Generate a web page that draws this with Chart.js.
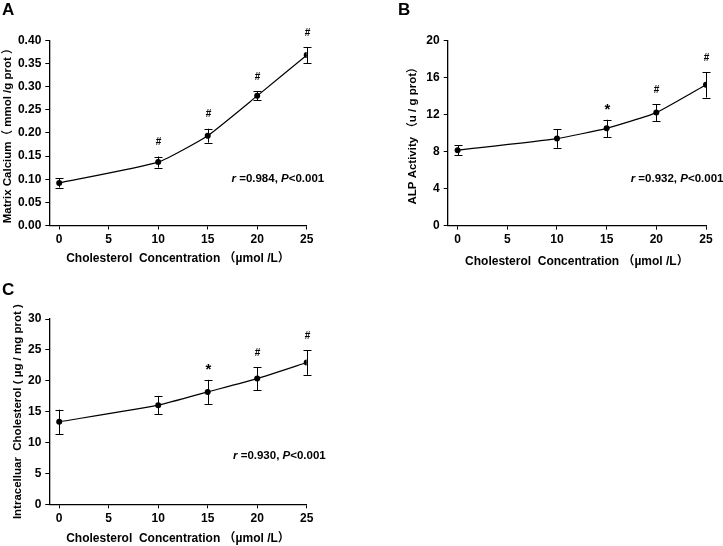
<!DOCTYPE html>
<html>
<head>
<meta charset="utf-8">
<script src="https://cdn.jsdelivr.net/npm/chart.js@4/dist/chart.umd.min.js"></script>
<style>
  html, body { margin: 0; padding: 0; background: #fff; }
  #wrap { position: relative; width: 723px; height: 546px; overflow: hidden; background: #fff; }
  canvas { position: absolute; }
  .lbl { position: absolute; font: bold 17px "Liberation Sans", Arial, sans-serif; color: #000; line-height: 1; }
</style>
</head>
<body>
<div id="wrap">
  <canvas id="cA" width="360" height="270" style="left:0;top:0;width:360px;height:270px"></canvas>
  <canvas id="cB" width="363" height="270" style="left:360px;top:0;width:363px;height:270px"></canvas>
  <canvas id="cC" width="360" height="276" style="left:0;top:270px;width:360px;height:276px"></canvas>
  <div class="lbl" style="left:2px;top:1px">A</div>
  <div class="lbl" style="left:398px;top:1px">B</div>
  <div class="lbl" style="left:2px;top:281px">C</div>
</div>
<script>
// ---- data ----
const concentrations = [0, 10, 15, 20, 25];
const xTickValues = [0, 5, 10, 15, 20, 25];

const calciumMean = [0.092, 0.137, 0.194, 0.280, 0.368];
const calciumErr  = [0.010, 0.012, 0.015, 0.010, 0.017];
const calciumMarks = ['', '#', '#', '#', '#'];
const calciumStat = ['0.984', '<0.001'];

const alpMean = [8.15, 9.40, 10.50, 12.20, 15.20];
const alpErr  = [0.55, 1.00, 0.93, 0.90, 1.38];
const alpMarks = ['', '', '*', '#', '#'];
const alpStat = ['0.932', '<0.001'];

const cholMean = [13.35, 16.05, 18.20, 20.35, 22.95];
const cholErr  = [1.98, 1.50, 1.95, 1.85, 2.00];
const cholMarks = ['', '', '*', '#', '#'];
const cholStat = ['0.930', '<0.001'];

const FONT = '"Liberation Sans", Arial, "Noto Sans CJK SC", sans-serif';

const errorBarPlugin = {
  id: 'errbars',
  afterDatasetsDraw(chart) {
    const o = chart.options.plugins.errbars;
    const ctx = chart.ctx;
    const ys = chart.scales.y;
    const meta = chart.getDatasetMeta(0);
    ctx.save();
    ctx.strokeStyle = '#000';
    ctx.lineWidth = 1;
    meta.data.forEach((pt, i) => {
      const m = o.mean[i], e = o.err[i];
      const x = Math.round(pt.x) + 0.5;
      const yt = ys.getPixelForValue(m + e);
      const yb = ys.getPixelForValue(m - e);
      ctx.beginPath();
      ctx.moveTo(x, yt); ctx.lineTo(x, yb);
      ctx.moveTo(x - 4, Math.round(yt) + 0.5); ctx.lineTo(x + 4, Math.round(yt) + 0.5);
      ctx.moveTo(x - 4, Math.round(yb) + 0.5); ctx.lineTo(x + 4, Math.round(yb) + 0.5);
      ctx.stroke();
      const mk = o.marks[i];
      if (mk) {
        ctx.fillStyle = '#000';
        ctx.textAlign = 'center';
        ctx.textBaseline = 'middle';
        if (mk === '*') {
          ctx.font = 'bold 15px ' + FONT;
          ctx.fillText(mk, x, yt - 10);
        } else {
          ctx.font = 'bold 10px ' + FONT;
          ctx.fillText(mk, x, yt - 14);
        }
      }
    });
    // statistics text
    const s = o.stat;
    let tx = o.statX;
    const ty = o.statY;
    const parts = [
      ['italic bold 11.5px ' + FONT, 'r'],
      ['bold 11.5px ' + FONT, ' =' + s[0] + ', '],
      ['italic bold 11.5px ' + FONT, 'P'],
      ['bold 11.5px ' + FONT, s[1]]
    ];
    ctx.textAlign = 'left';
    ctx.textBaseline = 'middle';
    ctx.fillStyle = '#000';
    parts.forEach(([f, t]) => {
      ctx.font = f;
      ctx.fillText(t, tx, ty);
      tx += ctx.measureText(t).width;
    });
    ctx.restore();
  }
};

function makePanel(id, cfg) {
  const canvas = document.getElementById(id);
  const W = canvas.width, H = canvas.height;
  const padLeft = cfg.titleCX - 6.6;
  new Chart(canvas, {
    type: 'line',
    data: {
      datasets: [{
        data: concentrations.map((c, i) => ({ x: c, y: cfg.mean[i] })),
        borderColor: '#000',
        backgroundColor: '#000',
        borderWidth: 1.2,
        pointRadius: 3,
        pointBackgroundColor: '#000',
        pointBorderWidth: 0,
        tension: 0.15,
        fill: false
      }]
    },
    options: {
      responsive: false,
      animation: false,
      events: [],
      layout: {
        padding: { left: padLeft, top: cfg.top, right: W - cfg.right, bottom: 0 }
      },
      plugins: {
        legend: { display: false },
        tooltip: { enabled: false },
        errbars: {
          mean: cfg.mean, err: cfg.err, marks: cfg.marks, stat: cfg.stat,
          statX: cfg.statX, statY: cfg.statY
        }
      },
      scales: {
        x: {
          type: 'linear',
          min: -1, max: 25,
          afterFit: (s) => { s.height = H - cfg.bottom; },
          afterBuildTicks: (s) => { s.ticks = xTickValues.map(v => ({ value: v })); },
          grid: { display: true, drawOnChartArea: false, drawTicks: true, tickLength: 4, color: '#000', lineWidth: 1 },
          border: { display: true, color: '#000', width: 1.3 },
          ticks: { color: '#000', font: { family: FONT, size: 12, weight: 'bold' }, padding: 3, maxRotation: 0 },
          title: {
            display: true, text: 'Cholesterol  Concentration （µmol /L）',
            color: '#000', font: { family: FONT, size: 12, weight: 'bold' },
            padding: { top: 2, bottom: cfg.xTitlePad }
          }
        },
        y: {
          min: cfg.yMin, max: cfg.yMax,
          afterFit: (s) => { s.width = cfg.left - padLeft; },
          afterBuildTicks: (s) => { s.ticks = cfg.yTicks.map(v => ({ value: v })); },
          grid: { display: true, drawOnChartArea: false, drawTicks: true, tickLength: 4, color: '#000', lineWidth: 1 },
          border: { display: true, color: '#000', width: 1.3 },
          ticks: {
            color: '#000', font: { family: FONT, size: 12, weight: 'bold' }, padding: 4,
            callback: (v) => cfg.fmt(v)
          },
          title: {
            display: true, text: cfg.yTitle,
            color: '#000', font: { family: FONT, size: 11.5, weight: 'bold' },
            padding: { top: 0, bottom: 0 }
          }
        }
      }
    },
    plugins: [errorBarPlugin]
  });
}

const calciumTicks = [0, 0.05, 0.10, 0.15, 0.20, 0.25, 0.30, 0.35, 0.40];
const alpTicks = [0, 4, 8, 12, 16, 20];
const cholTicks = [0, 5, 10, 15, 20, 25, 30];

makePanel('cA', {
  mean: calciumMean, err: calciumErr, marks: calciumMarks, stat: calciumStat,
  yMin: 0, yMax: 0.4, yTicks: calciumTicks, fmt: v => v.toFixed(2),
  yTitle: 'Matrix Calcium（ mmol /g prot ）',
  titleCX: 7.5, left: 49.3, right: 306.7, top: 40.3, bottom: 225.5, xTitlePad: 4,
  statX: 231.5, statY: 179
});
makePanel('cB', {
  mean: alpMean, err: alpErr, marks: alpMarks, stat: alpStat,
  yMin: 0, yMax: 20, yTicks: alpTicks, fmt: v => String(v),
  yTitle: 'ALP Activity （u / g prot）',
  titleCX: 53, left: 87.7, right: 346, top: 40.3, bottom: 225.7, xTitlePad: 1.5,
  statX: 270.7, statY: 179
});
makePanel('cC', {
  mean: cholMean, err: cholErr, marks: cholMarks, stat: cholStat,
  yMin: 0, yMax: 30, yTicks: cholTicks, fmt: v => String(v),
  yTitle: 'Intracelluar  Cholesterol ( µg / mg prot )',
  titleCX: 17.5, left: 49.3, right: 306.7, top: 49, bottom: 234.3, xTitlePad: 0,
  statX: 233, statY: 185.7
});
</script>
</body>
</html>
